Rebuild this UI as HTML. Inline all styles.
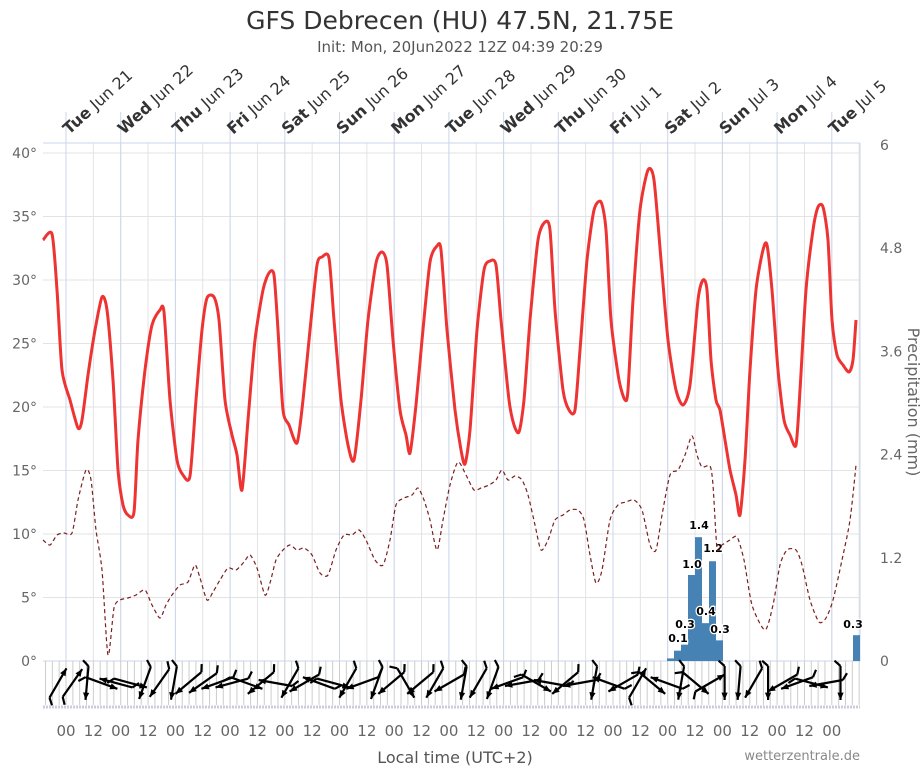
<!DOCTYPE html>
<html><head><meta charset="utf-8"><style>
body{margin:0;background:#fff;}
svg text{font-family:"DejaVu Sans","Liberation Sans",sans-serif;}
</style></head><body>
<svg id="s" width="921" height="768" xmlns="http://www.w3.org/2000/svg">
<text x="460" y="29" text-anchor="middle" font-size="25" fill="#333">GFS Debrecen (HU) 47.5N, 21.75E</text>
<text x="460" y="52" text-anchor="middle" font-size="15" fill="#555">Init: Mon, 20Jun2022 12Z 04:39 20:29</text>
<g id="g"></g>
<text x="455" y="763" text-anchor="middle" font-size="16" fill="#555">Local time (UTC+2)</text>
<text x="860" y="760" text-anchor="end" font-size="13" fill="#888">wetterzentrale.de</text>
<text transform="translate(908,402) rotate(90)" text-anchor="middle" font-size="16" fill="#666">Precipitation (mm)</text>
</svg>
<script>
var g=document.getElementById('g'),h='';
var X0=43,X1=860,D=54.7,T0=66;
function ln(a,b,c,d,s,w,ex){h+='<line x1="'+a+'" y1="'+b+'" x2="'+c+'" y2="'+d+'" stroke="'+s+'" stroke-width="'+(w||1)+'" '+(ex||'')+'/>';}
for(var i=0;i<=8;i++){var y=661-i*63.5;ln(X0,y,X1,y,'#e3e3e3');h+='<text x="37" y="'+(y+5)+'" text-anchor="end" font-size="14" fill="#666">'+(i*5)+'°</text>';}
['0','1.2','2.4','3.6','4.8','6'].forEach(function(t,i){h+='<text x="880" y="'+(661-i*103.2+5)+'" font-size="14" fill="#666">'+t+'</text>';});
for(var k=-1;k<30;k++){var x=T0+k*D/2;if(x<X0||x>X1)continue;ln(x,143,x,661,'#e3e3e3');}
ln(X0,143,X1,143,'#ccd6eb');ln(X1,143,X1,661,'#ccd6eb');ln(X0,661,X1,661,'#ccd6eb');
var days=['Tue|Jun 21','Wed|Jun 22','Thu|Jun 23','Fri|Jun 24','Sat|Jun 25','Sun|Jun 26','Mon|Jun 27','Tue|Jun 28','Wed|Jun 29','Thu|Jun 30','Fri|Jul 1','Sat|Jul 2','Sun|Jul 3','Mon|Jul 4','Tue|Jul 5'];
days.forEach(function(d,i){var x=T0+i*D;ln(x,112,x,661,'#ccd6eb');var p=d.split('|');
h+='<text transform="translate('+(x+3)+',135) rotate(-42)" font-size="16" fill="#333"><tspan font-weight="bold">'+p[0]+'</tspan> '+p[1]+'</text>';});
for(var k=-3;k<130;k++){var x=T0+k*D/8;if(x<X0||x>X1)continue;ln(x,661,x,705,'#ccc');}
ln(X0,707,X1,707,'#ccd','3','stroke-dasharray="2,1"');
for(var k=0;k<29;k++){var x=T0+k*D/2;if(x>X1)break;h+='<text x="'+x+'" y="736" text-anchor="middle" font-size="15" fill="#666">'+(k%2?'12':'00')+'</text>';}
var bars=[[667,674,0.03],[674,681,0.12],[681,688,0.19],[688,695,1.0],[695,702,1.44],[702,709,0.44],[709,716,1.16],[716,723,0.24],[853,860,0.3]];
bars.forEach(function(b){var t=661-b[2]*86;h+='<rect x="'+b[0]+'" y="'+t+'" width="'+(b[1]-b[0])+'" height="'+(661-t)+'" fill="#4682b4"/>';});
[[678,642,'0.1'],[685,628,'0.3'],[692,568,'1.0'],[699,529,'1.4'],[706,615,'0.4'],[713,552,'1.2'],[720,633,'0.3'],[853,628,'0.3']].forEach(function(l){h+='<text x="'+l[0]+'" y="'+l[1]+'" text-anchor="middle" font-size="11" font-weight="bold" fill="#000" stroke="#fff" stroke-width="2.5" paint-order="stroke">'+l[2]+'</text>';});
function path(p){var s='M'+p[0][0]+','+p[0][1];for(var i=0;i<p.length-1;i++){var a=p[Math.max(0,i-1)],b=p[i],c=p[i+1],d=p[Math.min(p.length-1,i+2)];
s+=' C'+(b[0]+(c[0]-a[0])/8).toFixed(1)+','+(b[1]+(c[1]-a[1])/8).toFixed(1)+' '+(c[0]-(d[0]-b[0])/8).toFixed(1)+','+(c[1]-(d[1]-b[1])/8).toFixed(1)+' '+c[0]+','+c[1];}return s;}
var dew=[[43,540],[50,545],[57,535],[64,533],[72,533],[78,500],[86,470],[91,480],[96,530],[102,570],[108,655],[114,608],[120,600],[128,598],[136,595],[145,590],[152,605],[160,618],[166,605],[172,595],[180,585],[188,582],[195,565],[200,578],[207,600],[213,592],[220,580],[228,568],[236,570],[244,562],[250,555],[257,568],[265,595],[270,583],[276,560],[283,550],[290,545],[297,550],[304,548],[312,555],[320,573],[328,575],[336,550],[344,535],[352,535],[359,530],[366,540],[375,560],[383,565],[390,540],[396,505],[404,498],[412,495],[418,488],[424,500],[430,520],[437,550],[443,520],[450,485],[458,462],[466,475],[474,490],[481,488],[489,485],[496,480],[502,470],[508,480],[515,476],[522,480],[528,495],[535,525],[541,550],[548,540],[555,520],[563,515],[570,510],[578,510],[584,520],[590,555],[596,583],[602,570],[610,520],[618,505],[626,502],[634,500],[642,510],[650,545],[656,550],[662,515],[670,475],[678,470],[685,455],[692,436],[697,455],[702,467],[710,466],[713,485],[717,548],[722,545],[730,540],[737,537],[744,560],[752,605],[765,630],[773,605],[780,565],[787,550],[796,550],[802,565],[810,600],[819,622],[826,618],[833,600],[842,560],[850,520],[856,465]];
h+='<path d="'+path(dew)+'" fill="none" stroke="#7a1f1f" stroke-width="1.2" stroke-dasharray="4,3"/>';
var tmp=[[43,240],[52,234],[57,290],[62,370],[70,400],[78,428],[82,420],[88,375],[95,330],[102,297],[107,310],[113,380],[118,470],[123,505],[128,515],[134,512],[138,440],[145,370],[152,325],[160,310],[164,312],[170,400],[177,460],[183,475],[190,476],[196,400],[202,330],[207,298],[214,297],[219,320],[225,400],[232,435],[237,455],[242,490],[248,420],[255,340],[263,290],[269,273],[274,275],[278,330],[283,410],[289,425],[297,443],[303,400],[310,330],[317,265],[322,257],[329,258],[334,320],[341,400],[348,445],[354,460],[361,400],[368,320],[376,263],[382,252],[387,265],[393,340],[400,410],[406,435],[410,453],[416,405],[422,340],[430,262],[437,246],[441,250],[447,330],[455,410],[461,450],[465,464],[470,430],[477,330],[484,270],[490,261],[496,265],[501,320],[509,400],[514,425],[519,432],[524,400],[530,320],[538,240],[545,222],[550,230],[555,310],[563,390],[569,410],[575,410],[580,350],[587,260],[594,210],[601,202],[606,230],[611,320],[619,380],[625,400],[628,390],[633,300],[640,210],[648,170],[654,180],[661,260],[668,340],[676,390],[683,405],[690,385],[698,300],[703,280],[707,290],[711,360],[716,400],[720,410],[725,440],[730,470],[736,495],[740,515],[745,460],[750,370],[756,290],[763,250],[767,245],[772,290],[778,370],[784,420],[790,435],[796,445],[800,390],[806,290],[813,230],[818,207],[823,207],[828,240],[832,320],[837,355],[843,365],[849,372],[853,360],[856,320]];
h+='<path d="'+path(tmp)+'" fill="none" stroke="#ee3333" stroke-width="3"/>';
var ang=[-60,-55,95,20,195,15,110,125,100,140,145,160,165,20,140,190,120,150,200,15,120,160,110,140,60,140,120,150,100,120,110,160,170,30,190,140,170,100,200,150,-60,40,200,100,40,-30,90,95,120,90,150,160,15,170,90];
var n=ang.length;for(var i=0;i<n;i++){var cx=X0+15+i*(X1-X0-20)/n,cy=683,a=ang[i]*Math.PI/180,L=17;
var x1=cx-Math.cos(a)*L,y1=cy-Math.sin(a)*L,x2=cx+Math.cos(a)*L,y2=cy+Math.sin(a)*L;
ln(x1.toFixed(1),y1.toFixed(1),x2.toFixed(1),y2.toFixed(1),'#000',2.2);
var bx=x1+Math.cos(a+2.3)*8,by=y1+Math.sin(a+2.3)*8;ln(x1.toFixed(1),y1.toFixed(1),bx.toFixed(1),by.toFixed(1),'#000',2.2);
h+='<polygon points="'+x2+','+y2+' '+(x2-Math.cos(a-0.4)*8)+','+(y2-Math.sin(a-0.4)*8)+' '+(x2-Math.cos(a+0.4)*8)+','+(y2-Math.sin(a+0.4)*8)+'" fill="#000"/>';}
g.innerHTML=h;
</script>
</body></html>
